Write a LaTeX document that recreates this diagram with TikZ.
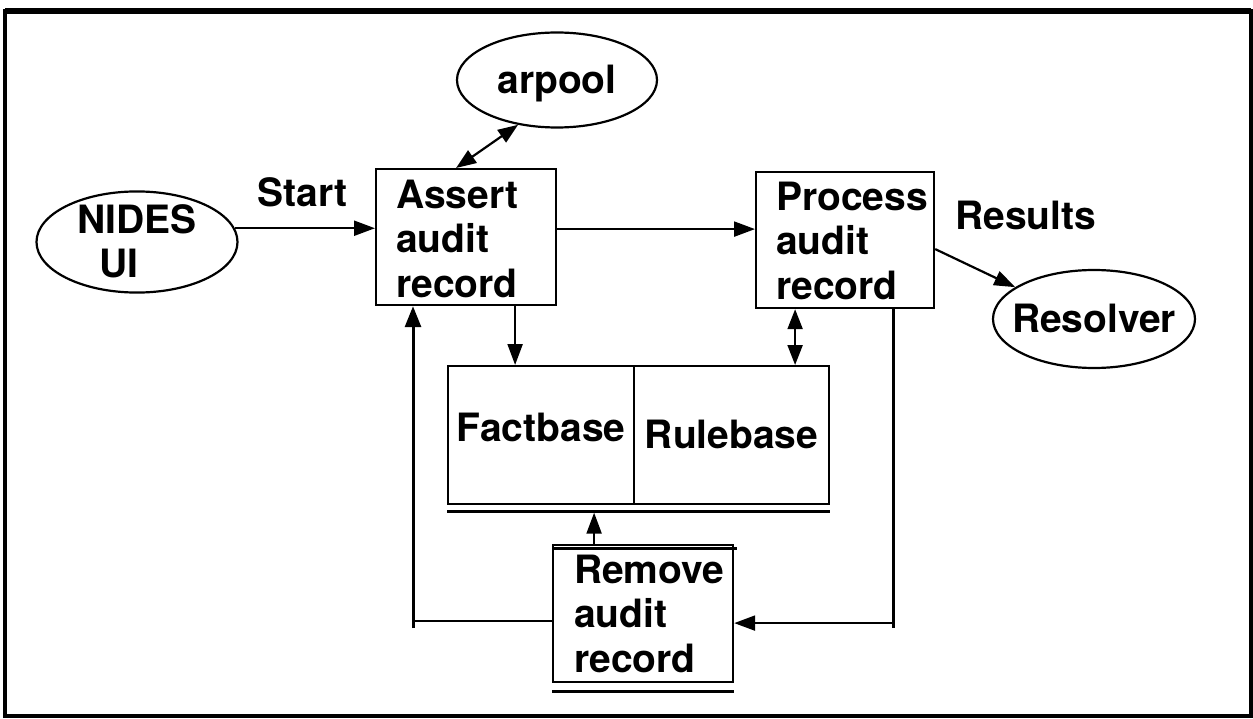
\documentclass[tikz,border=0pt]{standalone}
\usepackage{fontspec}
\setmainfont{TeX Gyre Heros}
\usetikzlibrary{arrows.meta,shapes.geometric,calc}
\begin{document}
\begin{tikzpicture}[x=1pt,y=-1pt,
  lbl/.style={font=\fontsize{39}{44.5}\selectfont\bfseries, inner sep=0pt},
  stepbox/.style={lbl, draw, line width=2.2pt, rectangle, anchor=north west,
    inner xsep=20pt, inner ysep=0pt, align=left},
  store/.style={lbl, draw, line width=2.2pt, rectangle, anchor=north west,
    minimum height=138pt},
  actor/.style={lbl, draw, line width=2.2pt, ellipse},
  arr/.style={line width=2.2pt, -{Triangle[length=21pt,width=15pt]}},
  biarr/.style={line width=2.2pt, {Triangle[length=20pt,width=15pt]}-{Triangle[length=20pt,width=15pt]}},
  feed/.style={line width=3pt},
  ul/.style={line width=3pt},
]
\useasboundingbox (0,0) rectangle (1253,719);
% frame
\draw[line width=4pt] (5,11) rectangle (1251,716);
\draw[line width=6pt] (5,11) -- (1251,11);

% processing steps
\node[stepbox, text width=140pt, text height=39pt, text depth=97pt]
  (assert) at (375,168) {Assert\\audit\\record};
\node[stepbox, text width=138pt, text height=38pt, text depth=98pt]
  (process) at (755,171) {Process\\audit\\record};
\node[stepbox, inner xsep=21pt, text width=138pt, text height=38pt, text depth=99pt]
  (remove) at (552,544) {Remove\\audit\\record};

% knowledge stores
\node[store, minimum width=186pt, text height=30pt, text depth=18pt]
  (fact) at (447,365) {Factbase};
\node[store, minimum width=195pt, text height=27pt, text depth=1pt]
  (rule) at (633,365) {Rulebase};
\draw[ul] ([yshift=-6pt]fact.south west) -- ([yshift=-6pt]rule.south east);
\draw[ul] ([yshift=-4.5pt]remove.north west) -- ([yshift=-4.5pt,xshift=3pt]remove.north east);
\draw[ul] ([yshift=-8pt]remove.south west) -- ([yshift=-8pt]remove.south east);

% external parties
\node[actor, inner sep=0pt, minimum width=201pt, minimum height=101pt,
  text width=120pt, align=left, text height=27pt, text depth=44.5pt]
  (nides) at (137,242) {NIDES\\\hspace*{22pt}UI};
\node[actor, inner sep=0pt, minimum width=200pt, minimum height=95pt,
  text height=27pt, text depth=0pt] (arpool) at (557,80) {arpool};
\node[actor, inner ysep=0pt, inner xsep=-14pt, minimum width=202pt, minimum height=98pt,
  text height=27pt, text depth=0pt] (resolver) at (1094,319) {Resolver};

% labels
\node[lbl, anchor=base west] (startlbl) at (257,207) {Start};
\node[lbl, anchor=base west] (resultslbl) at (955,230) {Results};

% main flow
\draw[arr] (nides.8) -- (nides.8 -| assert.west);
\draw[arr] ([yshift=8pt]assert.east) -- ([yshift=8pt]assert.east -| process.west);
\draw[biarr] ([xshift=-10pt]assert.north) -- (arpool.-131);
\draw[arr] ([yshift=-9pt]process.east) -- (resolver.158);

% access to the stores
\coordinate (assertOut) at ([xshift=49pt]assert.south);
\draw[arr] (assertOut) -- (assertOut |- fact.north);
\coordinate (processOut) at ([xshift=-50pt]process.south);
\draw[biarr] (processOut) -- (processOut |- rule.north);
\coordinate (removeOut) at ([xshift=-49pt]remove.north);
\coordinate (factLine) at ([yshift=-7.5pt]fact.south);
\draw[arr] (removeOut) -- (removeOut |- factLine);

% feedback loops
\coordinate (lfoot) at (413,628);
\coordinate (rfoot) at (893,628);
\draw[feed, -{Triangle[length=21pt,width=16pt]}] (lfoot) -- (lfoot |- assert.south);
\draw[line width=2.2pt] ([yshift=-7.5pt]remove.west) -- ([yshift=-7.5pt]remove.west -| lfoot);
\draw[feed] (rfoot |- process.south) -- (rfoot);
\draw[arr] ([yshift=-9.5pt]remove.east -| rfoot) -- ([yshift=-9.5pt]remove.east);
\end{tikzpicture}
\end{document}
